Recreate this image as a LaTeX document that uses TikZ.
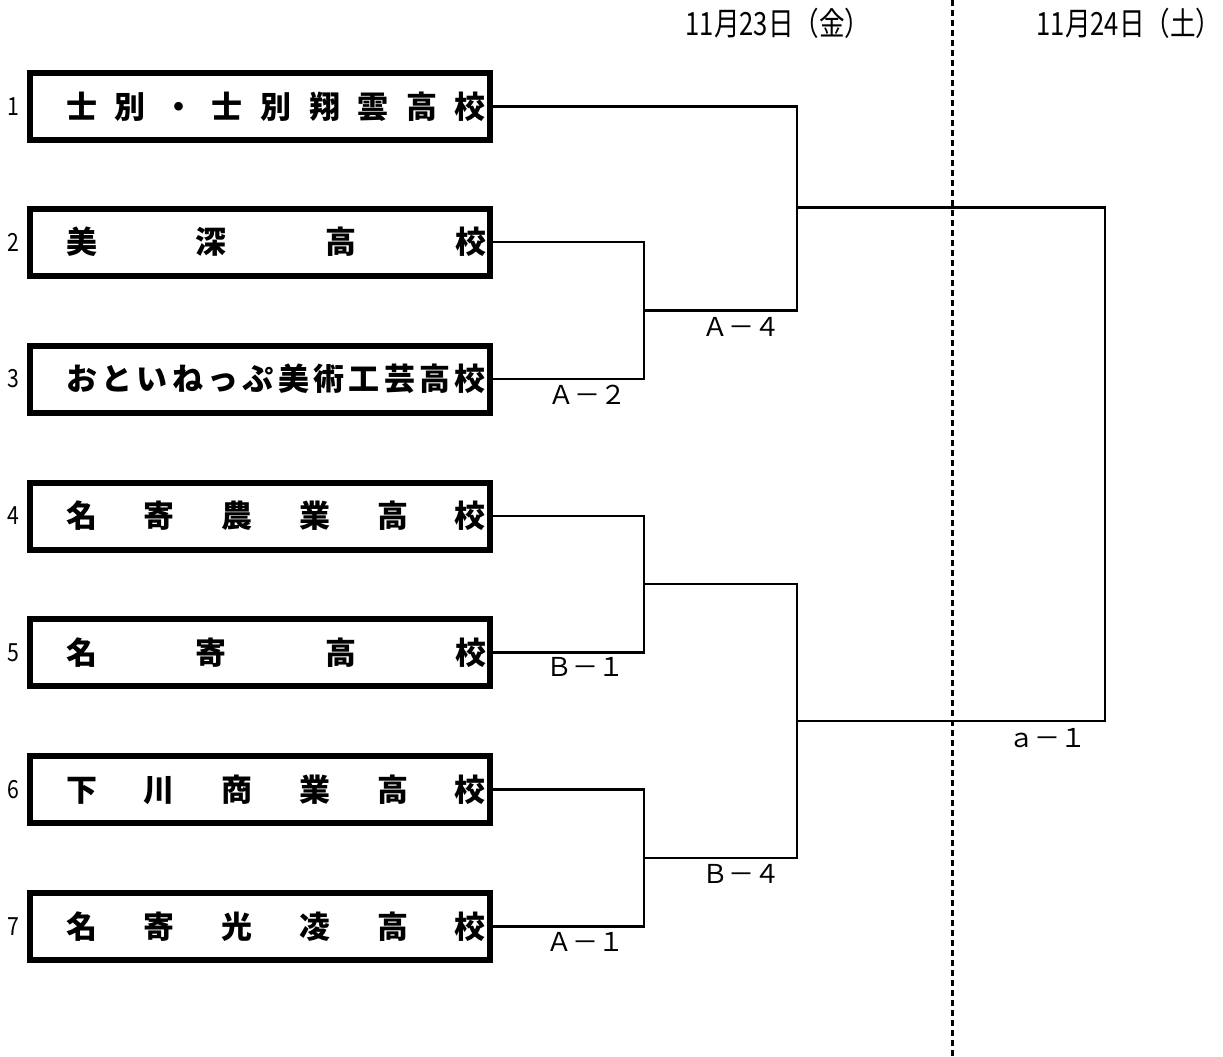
\documentclass[tikz,border=0pt]{standalone}
\usepackage{fontspec}
\newfontfamily\jp{Noto Sans CJK JP}
\newfontfamily\jpn{Noto Sans CJK JP}[FakeStretch=0.85]
\newfontfamily\jpd{Noto Sans CJK JP}[FakeStretch=0.8]
\newcommand{\teamtext}[1]{\makebox[460pt][l]{\hspace*{36pt}\makebox[420pt][s]{#1}}}
\begin{document}
\begin{tikzpicture}[x=1pt,y=-1pt,
  team/.style={draw=black, line width=6pt, minimum width=460pt, minimum height=67pt,
    inner sep=0pt, font=\jp\bfseries\fontsize{31pt}{31pt}\selectfont},
  num/.style={inner sep=0pt, font=\jpn\fontsize{25pt}{25pt}\selectfont},
  conn/.style={draw=black, line width=2.8pt},
  lbl/.style={inner sep=0pt, font=\jp\fontsize{26pt}{26pt}\selectfont},
  datelbl/.style={inner sep=0pt, font=\jpd\fontsize{32pt}{32pt}\selectfont},
  divider/.style={draw=black, line width=3pt, dash pattern=on 6pt off 4pt}
]
\useasboundingbox (0,0) rectangle (1223,1057);

% divider
\coordinate (dtop) at (952,0);
\coordinate (dbot) at (952,1057);
\draw[divider] (dtop) -- (dbot);

% dates
\node[datelbl] (d1) at (778,23) {11月23日（金）};
\node[datelbl] (d2) at (1129,23) {11月24日（土）};

% teams
\node[team] (t1) at (260,106.5) {\teamtext{士\hfill 別\hfill ・\hfill 士\hfill 別\hfill 翔\hfill 雲\hfill 高\hfill 校}};
\node[team] (t2) at (260,242) {\teamtext{美\hfill 深\hfill 高\hfill 校}};
\node[team] (t3) at (260,379) {\teamtext{お\hfill と\hfill い\hfill ね\hfill っ\hfill ぷ\hfill 美\hfill 術\hfill 工\hfill 芸\hfill 高\hfill 校}};
\node[team] (t4) at (260,516) {\teamtext{名\hfill 寄\hfill 農\hfill 業\hfill 高\hfill 校}};
\node[team] (t5) at (260,652.5) {\teamtext{名\hfill 寄\hfill 高\hfill 校}};
\node[team] (t6) at (260,789.5) {\teamtext{下\hfill 川\hfill 商\hfill 業\hfill 高\hfill 校}};
\node[team] (t7) at (260,926.5) {\teamtext{名\hfill 寄\hfill 光\hfill 凌\hfill 高\hfill 校}};

% numbers
\node[num] (n1) at (13,106.5) {1};
\node[num] (n2) at (13,242) {2};
\node[num] (n3) at (13,379) {3};
\node[num] (n4) at (13,516) {4};
\node[num] (n5) at (13,652.5) {5};
\node[num] (n6) at (13,789.5) {6};
\node[num] (n7) at (13,926.5) {7};

% junctions
\coordinate (j1) at (644,310.5);
\coordinate (j2) at (644,584);
\coordinate (j3) at (644,858);
\coordinate (k1) at (797,207.5);
\coordinate (k2) at (797,721);
\coordinate (f) at (1105,464);

\draw[conn] (t2.east) -| (j1);
\draw[conn] (t3.east) -| (j1);
\draw[conn] (t1.east) -| (k1);
\draw[conn] (j1) -| (k1);
\draw[conn] (t4.east) -| (j2);
\draw[conn] (t5.east) -| (j2);
\draw[conn] (t6.east) -| (j3);
\draw[conn] (t7.east) -| (j3);
\draw[conn] (j2) -| (k2);
\draw[conn] (j3) -| (k2);
\draw[conn] (k1) -| (f);
\draw[conn] (k2) -| (f);

% match labels
\node[lbl] (la2) at (587,395) {Ａ－２};
\node[lbl] (la4) at (741,327) {Ａ－４};
\node[lbl] (lb1) at (585,667) {Ｂ－１};
\node[lbl] (lb4) at (741,874) {Ｂ－４};
\node[lbl] (la1) at (585,942) {Ａ－１};
\node[lbl] (lsa1) at (1047,738) {ａ－１};
\end{tikzpicture}
\end{document}
